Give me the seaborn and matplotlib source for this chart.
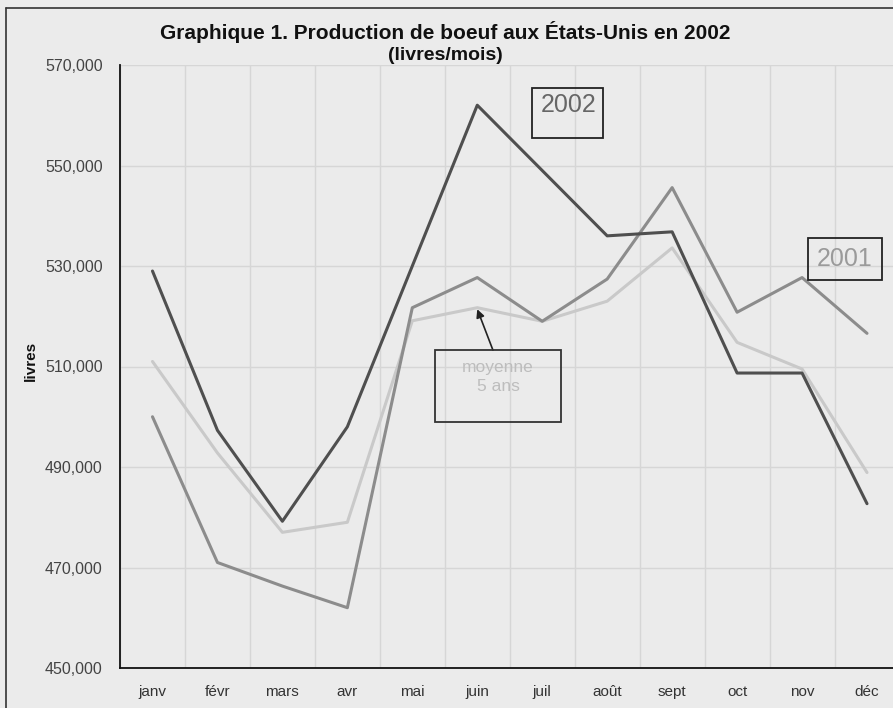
import numpy as np
import pandas as pd
import matplotlib
matplotlib.use('Agg')
import matplotlib.pyplot as plt
from matplotlib.lines import Line2D
from matplotlib.patches import Rectangle
from matplotlib.ticker import FuncFormatter, FixedLocator
import seaborn as sns

months = ['janv', 'févr', 'mars', 'avr', 'mai', 'juin',
          'juil', 'août', 'sept', 'oct', 'nov', 'déc']
prod_2002 = [529000, 497300, 479200, 498000, 530000, 562000,
             549000, 536000, 536800, 508700, 508700, 482700]
prod_2001 = [500000, 471000, 466300, 462000, 521700, 527700,
             519000, 527400, 545600, 520800, 527700, 516600]
prod_avg5 = [511000, 492800, 477000, 479000, 519100, 521700,
             519000, 523000, 533600, 514800, 509500, 488900]

series_names = ['2002', '2001', 'moyenne 5 ans']
colors = {'2002': '#4f4f4f', '2001': '#8c8c8c', 'moyenne 5 ans': '#c9c9c9'}

df = pd.concat([
    pd.DataFrame({'mois': np.arange(len(months)), 'livres': vals, 'serie': name})
    for name, vals in zip(series_names, [prod_2002, prod_2001, prod_avg5])
])

sns.set_theme(style='white')
plt.rcParams['font.family'] = ['Liberation Sans', 'DejaVu Sans']

bg = '#ebebeb'
fig = plt.figure(figsize=(8.93, 7.08), dpi=100, facecolor=bg)
ax = fig.add_axes([120 / 893, 1 - 668 / 708, 773 / 893, 603 / 708])
ax.set_facecolor(bg)

# light series first so the 2002 line sits on top
sns.lineplot(data=df, x='mois', y='livres', hue='serie',
             hue_order=['moyenne 5 ans', '2001', '2002'],
             palette=colors, linewidth=2.2, legend=False, ax=ax)

ax.set_xlim(-0.5, 11.4)
ax.set_ylim(450000, 570000)
ax.set_yticks(np.arange(450000, 570001, 20000))
ax.yaxis.set_major_formatter(FuncFormatter(lambda v, p: f'{int(v):,}'))

ax.set_xticks(np.arange(len(months)))
ax.set_xticklabels(months)
ax.xaxis.set_minor_locator(FixedLocator(np.arange(-0.5, 12, 1.0)))
ax.tick_params(axis='x', which='major', length=0, pad=12, labelsize=11, labelcolor='#333333')
ax.tick_params(axis='x', which='minor', length=5, width=1, direction='inout', color='#222222')
ax.tick_params(axis='y', which='major', length=5, width=1, direction='inout', color='#222222',
               labelsize=11.5, labelcolor='#444444', pad=10)

ax.grid(True, axis='y', which='major', color='#d6d6d6', linewidth=1)
ax.grid(True, axis='x', which='minor', color='#d6d6d6', linewidth=1)
ax.set_axisbelow(True)

for s in ['top', 'right']:
    ax.spines[s].set_visible(False)
for s in ['left', 'bottom']:
    ax.spines[s].set_color('#111111')
    ax.spines[s].set_linewidth(1.3)

ax.set_xlabel('')
ax.set_ylabel('livres', fontsize=11, fontweight='bold', color='#111111')
ax.yaxis.set_label_coords(-0.106, 0.51)

fig.text(445 / 893, 1 - 32 / 708, 'Graphique 1. Production de boeuf aux États-Unis en 2002',
         ha='center', va='center', fontsize=15, fontweight='bold', color='#111111')
fig.text(445 / 893, 1 - 56 / 708, '(livres/mois)',
         ha='center', va='center', fontsize=14, fontweight='bold', color='#111111')

# "2002" label box (text sits in the upper part of the frame)
ax.add_patch(Rectangle((0.533, 0.879), 0.092, 0.083, transform=ax.transAxes,
                       fill=False, ec='#222222', lw=1.3, zorder=5))
ax.text(0.58, 0.934, '2002', transform=ax.transAxes, ha='center', va='center',
        fontsize=18, color='#666666', zorder=5)

ax.text(0.938, 0.678, '2001', transform=ax.transAxes, ha='center', va='center',
        fontsize=18, color='#9a9a9a',
        bbox=dict(boxstyle='square,pad=0.35', fc='none', ec='#222222', lw=1.3))

# "moyenne 5 ans" callout
ax.add_patch(Rectangle((0.4075, 0.408), 0.163, 0.119, transform=ax.transAxes,
                       fill=False, ec='#333333', lw=1.3, zorder=5))
ax.text(0.489, 0.482, 'moyenne\n5 ans', transform=ax.transAxes, ha='center', va='center',
        fontsize=12.5, color='#bdbdbd', linespacing=1.35, zorder=5)
ax.annotate('', xy=(5, prod_avg5[5] - 300), xycoords='data',
            xytext=(0.4825, 0.527), textcoords='axes fraction',
            arrowprops=dict(arrowstyle='-|>', color='#222222', lw=1.2,
                            shrinkA=0, shrinkB=0, mutation_scale=12))

# outer chart frame (top and left edges visible in the crop)
fig.add_artist(Line2D([6 / 893, 6 / 893], [0, 1 - 8 / 708], color='#333333', lw=1.2,
                      transform=fig.transFigure))
fig.add_artist(Line2D([6 / 893, 1], [1 - 8 / 708, 1 - 8 / 708], color='#333333', lw=1.2,
                      transform=fig.transFigure))

fig.savefig('out.png', dpi=100, facecolor=bg)
